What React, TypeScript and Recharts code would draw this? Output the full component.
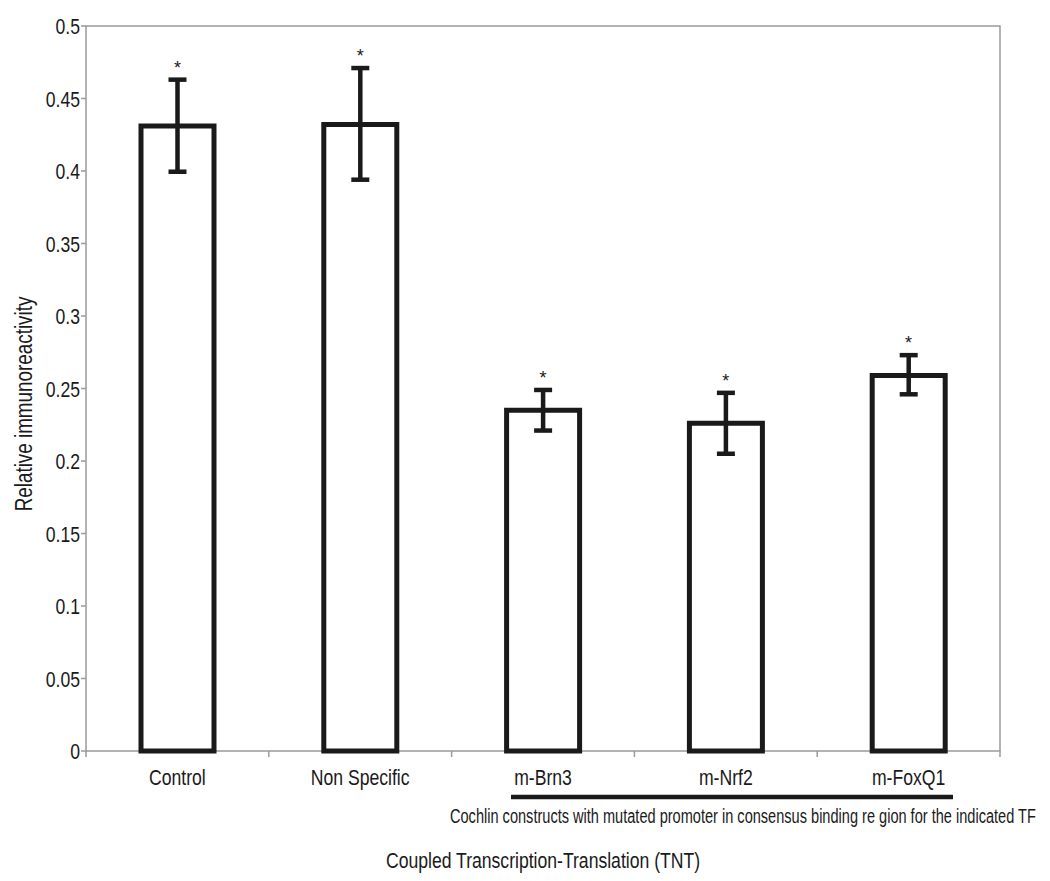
import React from "react";
import { ComposedChart, Bar, XAxis, YAxis, ErrorBar, Scatter, ReferenceArea } from "recharts";

const categories = ["Control", "Non Specific", "m-Brn3", "m-Nrf2", "m-FoxQ1"];
const means = [0.431, 0.432, 0.235, 0.226, 0.259];
const upper = [0.463, 0.471, 0.249, 0.247, 0.273];
const lower = [0.3995, 0.394, 0.221, 0.205, 0.246];
const yTicks = [0, 0.05, 0.1, 0.15, 0.2, 0.25, 0.3, 0.35, 0.4, 0.45, 0.5];

const FONT = '"Liberation Sans", Arial, sans-serif';
const AXIS = "#9a9a9a";
const INK = "#1a1a1a";

const data = categories.map((name, i) => ({
  name,
  value: means[i],
  err: [means[i] - lower[i], upper[i] - means[i]],
  star: upper[i],
}));

// Arial Narrow look-alike: Liberation Sans squeezed horizontally
function Narrow({
  x,
  y,
  size,
  anchor = "middle",
  squeeze = 0.8,
  rotate = false,
  children,
}: {
  x: number;
  y: number;
  size: number;
  anchor?: "start" | "middle" | "end";
  squeeze?: number;
  rotate?: boolean;
  children: React.ReactNode;
}) {
  const t = `translate(${x}, ${y})${rotate ? " rotate(-90)" : ""} scale(${squeeze}, 1)`;
  return (
    <text transform={t} textAnchor={anchor} fontSize={size} fill={INK} fontFamily={FONT}>
      {children}
    </text>
  );
}

function YTick({ x, y, payload }: any) {
  return (
    <Narrow x={x} y={y + 8} size={22} anchor="end">
      {String(payload.value)}
    </Narrow>
  );
}

function XTick({ x, y, payload, index }: any) {
  const half = payload.offset ?? 0;
  return (
    <g>
      <line x1={x - half} x2={x - half} y1={y} y2={y + 6} stroke={AXIS} strokeWidth={1.5} />
      {index === categories.length - 1 && (
        <line x1={x + half} x2={x + half} y1={y} y2={y + 6} stroke={AXIS} strokeWidth={1.5} />
      )}
      <Narrow x={x} y={y + 34} size={22}>
        {payload.value}
      </Narrow>
    </g>
  );
}

function Star({ cx, cy }: { cx?: number; cy?: number }) {
  if (cx == null || cy == null) return null;
  return (
    <text x={cx} y={cy - 6} textAnchor="middle" fontSize={18} fill={INK} fontFamily={FONT}>
      *
    </text>
  );
}

export default function App() {
  return (
    <div style={{ position: "absolute", left: 0, top: 0, width: 1050, height: 881, background: "#fff" }}>
      <ComposedChart width={1050} height={881} data={data} margin={{ top: 26, right: 50, left: 0, bottom: 90 }}>
        <ReferenceArea y1={0} y2={0.5} fill="none" stroke={AXIS} strokeWidth={1.5} ifOverflow="visible" zIndex={0} />
        <XAxis
          dataKey="name"
          interval={0}
          height={40}
          tickSize={0}
          tickMargin={0}
          tickLine={false}
          axisLine={false}
          tick={<XTick />}
        />
        <YAxis
          domain={[0, 0.5]}
          ticks={yTicks}
          width={86}
          tickSize={5}
          tickMargin={1}
          axisLine={false}
          tickLine={{ stroke: AXIS, strokeWidth: 1.5 }}
          tick={<YTick />}
        />
        <Bar
          dataKey="value"
          barSize={73}
          fill="#fff"
          stroke={INK}
          strokeWidth={5}
          isAnimationActive={false}
          zIndex={900}
        >
          <ErrorBar dataKey="err" width={9} stroke={INK} strokeWidth={4.5} zIndex={1000} />
        </Bar>
        <Scatter dataKey="star" shape={<Star />} isAnimationActive={false} zIndex={1000} />
      </ComposedChart>
      <svg width={1050} height={881} style={{ position: "absolute", left: 0, top: 0, pointerEvents: "none" }}>
        <Narrow x={32} y={404} size={23} squeeze={0.82} rotate>
          Relative immunoreactivity
        </Narrow>
        <line x1={511} x2={953} y1={797} y2={797} stroke={INK} strokeWidth={4.5} />
        <Narrow x={450} y={823} size={21} anchor="start" squeeze={0.694}>
          Cochlin constructs with mutated promoter in consensus binding re gion for the indicated TF
        </Narrow>
        <Narrow x={543} y={868} size={22} squeeze={0.8}>
          Coupled Transcription-Translation (TNT)
        </Narrow>
      </svg>
    </div>
  );
}
